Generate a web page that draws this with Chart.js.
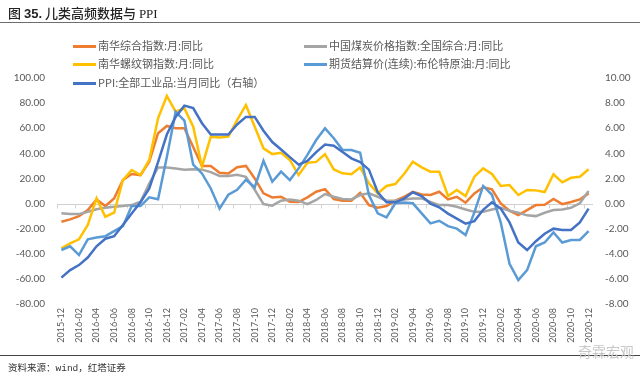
<!DOCTYPE html>
<html><head><meta charset="utf-8">
<script src="https://cdn.jsdelivr.net/npm/chart.js@4/dist/chart.umd.min.js"></script>
<style>
html,body{margin:0;padding:0;background:#fff;}
#wrap{position:relative;width:640px;height:381px;overflow:hidden;font-family:"Noto Sans CJK SC","Noto Sans",sans-serif;}
#c{position:absolute;left:0;top:0;}
.abs{position:absolute;white-space:nowrap;}
.title{left:8px;top:3px;font-size:13px;color:#222;font-weight:500;}
.title b{font-family:"Liberation Sans",Arial,sans-serif;font-weight:bold;}
.title .sf{font-family:"Liberation Serif",serif;font-weight:normal;}
.hline{left:0;width:640px;height:1px;background:#6e6e6e;}
.lg{font-size:11px;color:#595959;line-height:14px;}
.lg i{display:inline-block;width:23px;height:3px;vertical-align:middle;margin-right:2px;position:relative;top:-1px;}
.src{left:8px;top:360px;font-size:9.5px;color:#333;}
.src .sf{font-family:"Liberation Mono",monospace;}
.wm{left:578px;top:341px;font-size:14px;color:#c8c8c8;}
</style></head>
<body><div id="wrap">
<canvas id="c" width="640" height="381"></canvas>
<div class="abs title">图 <b>35.</b> 儿类高频数据与 <span class="sf">PPI</span></div>
<div class="abs hline" style="top:22px"></div>
<div class="abs lg" style="left:73px;top:38px"><i style="background:#ED7D31"></i>南华综合指数:月:同比</div>
<div class="abs lg" style="left:304px;top:38px"><i style="background:#A5A5A5"></i>中国煤炭价格指数:全国综合:月:同比</div>
<div class="abs lg" style="left:73px;top:56px"><i style="background:#FFC000"></i>南华螺纹钢指数:月:同比</div>
<div class="abs lg" style="left:304px;top:56px"><i style="background:#5B9BD5"></i>期货结算价(连续):布伦特原油:月:同比</div>
<div class="abs lg" style="left:73px;top:75px"><i style="background:#4472C4"></i>PPI:全部工业品:当月同比（右轴）</div>
<div class="abs hline" style="top:355px;background:#444"></div>
<div class="abs src">资料来源：<span class="sf">wind</span>，红塔证券</div>
<div class="abs wm">奇霖宏观</div>
</div>
<script>
const categories = ['2015-12','2016-01','2016-02','2016-03','2016-04','2016-05','2016-06','2016-07','2016-08','2016-09','2016-10','2016-11','2016-12',
'2017-01','2017-02','2017-03','2017-04','2017-05','2017-06','2017-07','2017-08','2017-09','2017-10','2017-11','2017-12',
'2018-01','2018-02','2018-03','2018-04','2018-05','2018-06','2018-07','2018-08','2018-09','2018-10','2018-11','2018-12',
'2019-01','2019-02','2019-03','2019-04','2019-05','2019-06','2019-07','2019-08','2019-09','2019-10','2019-11','2019-12',
'2020-01','2020-02','2020-03','2020-04','2020-05','2020-06','2020-07','2020-08','2020-09','2020-10','2020-11','2020-12'];

const nanhuaComposite = [-14.5,-12.6,-10,-5.2,3.3,-2,4.1,18.7,23.5,22.7,33.3,56,61.8,60,60,45,29.9,30,24.6,24,29,30,20,8.1,4.9,5.4,1.5,1.2,4.9,9.4,11.5,3.6,2.3,2.3,8.6,-1.2,-3.3,-2,2.3,5.4,9.4,7.3,6.8,9.4,3.3,5.4,0.7,8.1,12.9,11.3,0.1,-5.7,-9.2,-5.2,-1.2,-0.9,3.6,-0.5,1.2,3.3,8.1];
const coalPrice = [-7.8,-8.4,-8.4,-6.5,-4.6,-3.3,-2.5,-2,-1.2,1.5,16,28.8,28.8,28,27,27.3,27,25,22,22,23,21.3,11,-0.4,-1.7,2.3,3.3,2.3,-0.4,2.9,7.6,5.4,3.6,3.3,6.8,8.1,5.4,2.3,2.3,3.3,4.1,4.1,1.4,-1.2,-1.2,-2.6,-4.7,-6.6,-6.6,-4.7,-3.3,-5.7,-7.3,-9.4,-10,-7.3,-5.2,-4.7,-3.3,0.2,10];
const rebar = [-35.7,-31.7,-28.5,-17.1,4.1,-10.5,-7.3,18.7,26.7,22.7,34.7,67.9,85.7,73.2,75.8,61.2,29.4,53.3,52.7,53.3,66.5,78.5,61.2,44,39.4,40.5,34.7,22.7,32.5,33.2,39.4,27.2,24.1,23.3,28.8,16.1,8.1,14,15.5,23.5,33.3,28.8,25.4,25.4,6,10.8,6,21.4,28,23.5,14,14.7,6.8,10.8,10.5,9.2,23.3,16.9,20.5,21.4,27.3];
const brent = [-37,-34,-41,-28.5,-27,-26,-22,-18,-2,-2,5,3.5,37,73,66,31,24,12,-4,7,11,19,13,34,17.4,25.4,18.7,28,38.7,50.6,59.9,52,42.6,42.6,40.5,6.8,-7.8,-11,0.2,0.8,0.2,-7.8,-15.8,-13.7,-18,-20,-25,-7,14,7,-15,-48,-61,-53,-34,-31,-23,-31,-29,-29,-22];
const ppi = [-5.9,-5.3,-4.9,-4.3,-3.4,-2.8,-2.6,-1.7,-0.8,0.1,1.2,3.3,5.5,6.9,7.8,7.6,6.4,5.5,5.5,5.5,6.3,6.9,6.9,5.8,4.9,4.3,3.7,3.1,3.4,4.1,4.7,4.6,4.1,3.6,3.3,2.7,0.9,0.1,0.1,0.4,0.9,0.6,0.0,-0.3,-0.8,-1.2,-1.6,-1.4,-0.5,0.1,-0.4,-1.5,-3.1,-3.7,-3.0,-2.4,-2.0,-2.1,-2.1,-1.5,-0.4];

const leftTicks = {min:-80, max:100, step:20};
const rightTicks = {min:-8, max:10, step:2};

const zeroLine = {
  id:'zeroLine',
  beforeDatasetsDraw(chart){
    const {ctx, chartArea, scales} = chart;
    const x = scales.x, y = scales.y;
    const yz = Math.round(y.getPixelForValue(0)) + 0.5;
    const half = (x.getPixelForValue(1) - x.getPixelForValue(0)) / 2;
    ctx.save();
    ctx.strokeStyle = '#d0d0d0';
    ctx.lineWidth = 1;
    ctx.beginPath();
    ctx.moveTo(chartArea.left, yz);
    ctx.lineTo(chartArea.right, yz);
    for (let i = 0; i <= categories.length; i += 2) {
      const px = Math.round(x.getPixelForValue(i) - half) + 0.5;
      ctx.moveTo(px, yz);
      ctx.lineTo(px, yz + 4);
    }
    ctx.stroke();
    ctx.restore();
  }
};

const numFont = {family:'Lato, "Liberation Sans", sans-serif', size:10};
const mk = (data, color, order, axis) => ({
  data, borderColor:color, backgroundColor:color, borderWidth:2.5,
  pointRadius:0, tension:0, fill:false, order, yAxisID:axis
});

new Chart(document.getElementById('c'), {
  type:'line',
  data:{
    labels:categories,
    datasets:[
      mk(nanhuaComposite,'#ED7D31',4,'y'),
      mk(coalPrice,'#A5A5A5',3,'y'),
      mk(rebar,'#FFC000',2,'y'),
      mk(brent,'#5B9BD5',1,'y'),
      mk(ppi,'#4472C4',0,'y2')
    ]
  },
  options:{
    responsive:false, animation:false, devicePixelRatio:1,
    layout:{padding:{top:78,left:10,right:0,bottom:35}},
    plugins:{legend:{display:false}, tooltip:{enabled:false}},
    scales:{
      x:{
        offset:true,
        grid:{display:false, drawTicks:false},
        border:{display:false},
        afterFit(s){ s.height = 42; },
        ticks:{autoSkip:false, minRotation:90, maxRotation:90, padding:4, color:'#595959',
          font:{family:'Lato, "Liberation Sans", sans-serif', size:9},
          callback:(v,i)=> i % 2 === 0 ? categories[i] : ''}
      },
      y:{
        position:'left', min:leftTicks.min, max:leftTicks.max,
        grid:{display:false, drawTicks:false}, border:{display:false},
        afterFit(s){ s.width = 47; },
        ticks:{stepSize:leftTicks.step, padding:12, color:'#595959', font:numFont,
          callback:v=>v.toFixed(2)}
      },
      y2:{
        position:'right', min:rightTicks.min, max:rightTicks.max,
        grid:{display:false, drawTicks:false}, border:{display:false},
        afterFit(s){ s.width = 47; },
        ticks:{stepSize:rightTicks.step, padding:12, color:'#595959', font:numFont,
          callback:v=>v.toFixed(2)}
      }
    }
  },
  plugins:[zeroLine]
});
</script>
</body></html>
